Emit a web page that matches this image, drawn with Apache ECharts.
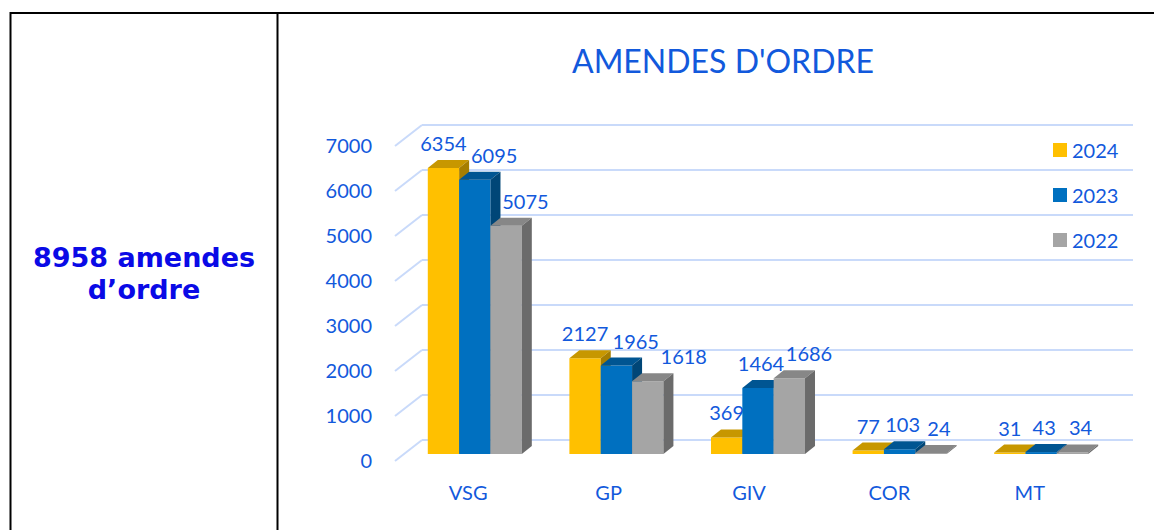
<!DOCTYPE html>
<html>
<head>
<meta charset="utf-8">
<script src="https://cdn.jsdelivr.net/npm/echarts@6/dist/echarts.min.js"></script>
<style>
  html, body { margin: 0; padding: 0; background: #fff; }
  #main { width: 1154px; height: 530px; }
</style>
</head>
<body>
<div id="main"></div>
<script>
// données du graphique
var categories = ['VSG', 'GP', 'GIV', 'COR', 'MT'];
var years = ['2024', '2023', '2022'];
var values2024 = [6354, 2127, 369, 77, 31];
var values2023 = [6095, 1965, 1464, 103, 43];
var values2022 = [5075, 1618, 1686, 24, 34];
var yTicks = [0, 1000, 2000, 3000, 4000, 5000, 6000, 7000];
var allValues = [values2024, values2023, values2022];

var blue = '#1259dc';
// face avant, dessus, côté
var colors = [
  ['#ffc000', '#c79700', '#a67e00'],
  ['#0070c0', '#005592', '#004677'],
  ['#a5a5a5', '#878787', '#6b6b6b']
];
var DX = 10, DY = 8;          // profondeur des barres
var labelShift = [0, 3, 8];   // décalage des étiquettes
var charW = 11.5;             // largeur approx. d'un chiffre

var chart = echarts.init(document.getElementById('main'), null, {renderer: 'svg'});

// position des étiquettes : on pousse à droite si elles chevauchent
// l'étiquette ou la barre précédente
function labelPos(api, cat, k) {
  var band = api.size([1, 0])[0];
  var bw = band * 0.664 / 3;
  var prev = null, res = null;
  for (var j = 0; j <= k; j++) {
    var v = allValues[j][cat];
    var c = api.coord([cat, v]);
    var left = c[0] - 1.5 * bw + j * bw;
    var x = left + bw / 2 + labelShift[j];
    var y = c[1] - 25;
    var w = String(v).length * charW;
    if (prev) {
      if (Math.abs(y - prev.y) < 19 && x - prev.x < (w + prev.w) / 2 + 2) {
        x = prev.x + (w + prev.w) / 2 + 2;
      }
      if (y + 10 > prev.top - DY && x - w / 2 < left + DX + 2) {
        x = left + DX + 2 + w / 2;
      }
    }
    res = {x: x, y: y, w: w, top: c[1]};
    prev = res;
  }
  return res;
}

// barres 3D dessinées avec une série custom
function barSeries(name, values, k) {
  return {
    name: name,
    type: 'custom',
    xAxisIndex: 1,
    yAxisIndex: 1,
    itemStyle: {color: colors[k][0]},
    data: values.map(function (v, i) { return [i, v]; }),
    renderItem: function (params, api) {
      var cat = api.value(0), v = api.value(1);
      var top = api.coord([cat, v]);
      var base = api.coord([cat, 0]);
      var band = api.size([1, 0])[0];
      var bw = band * 0.664 / 3;
      var x0 = top[0] - 1.5 * bw + k * bw;
      var y0 = top[1], y1 = base[1];
      var lp = labelPos(api, cat, k);
      return {
        type: 'group',
        children: [
          {type: 'rect', shape: {x: x0, y: y0, width: bw, height: y1 - y0},
            style: {fill: colors[k][0]}},
          {type: 'polygon', shape: {points: [[x0, y0], [x0 + bw, y0], [x0 + bw + DX, y0 - DY], [x0 + DX, y0 - DY]]},
            style: {fill: colors[k][1]}},
          {type: 'polygon', shape: {points: [[x0 + bw, y0], [x0 + bw + DX, y0 - DY], [x0 + bw + DX, y1 - DY], [x0 + bw, y1]]},
            style: {fill: colors[k][2]}},
          {type: 'text', x: lp.x, y: lp.y,
            style: {text: String(v), fill: blue, fontSize: 20, fontFamily: 'Lato',
              align: 'center', verticalAlign: 'middle'}}
        ]
      };
    }
  };
}

var option = {
  backgroundColor: '#fff',
  animation: false,
  graphic: [
    {type: 'line', shape: {x1: 10, y1: 13, x2: 1154, y2: 13}, style: {stroke: '#000', lineWidth: 2}},
    {type: 'line', shape: {x1: 10.5, y1: 12, x2: 10.5, y2: 530}, style: {stroke: '#000', lineWidth: 2}},
    {type: 'line', shape: {x1: 277.5, y1: 12, x2: 277.5, y2: 530}, style: {stroke: '#000', lineWidth: 2}},
    {type: 'text', x: 144, y: 273,
      style: {text: '8958 amendes\nd\u2019ordre', fill: '#0a0ae6', fontSize: 27, fontWeight: 'bold',
        fontFamily: 'DejaVu Sans', lineHeight: 32, align: 'center', verticalAlign: 'middle'}},
    {type: 'text', x: 723, y: 60,
      style: {text: "AMENDES D'ORDRE", fill: blue, fontSize: 32, fontFamily: 'Lato',
        align: 'center', verticalAlign: 'middle'}}
  ],
  legend: {
    orient: 'vertical',
    left: 1053,
    top: 140,
    padding: 0,
    data: years,
    icon: 'rect',
    itemWidth: 14,
    itemHeight: 14,
    itemGap: 25,
    textStyle: {color: blue, fontSize: 20, fontFamily: 'Lato', lineHeight: 20}
  },
  grid: [
    {left: 422, right: 21, top: 125, bottom: 90},   // fond
    {left: 404, right: 42, top: 139, bottom: 76},   // barres
    {left: 398, right: 54, top: 145, bottom: 70}    // étiquettes
  ],
  xAxis: [
    {gridIndex: 0, type: 'value', min: 0, max: 1, show: false},
    {gridIndex: 1, type: 'category', data: categories, show: false},
    {gridIndex: 2, type: 'category', data: categories,
      axisLine: {show: false}, axisTick: {show: false},
      axisLabel: {color: blue, fontSize: 20, fontFamily: 'Lato', margin: 22}}
  ],
  yAxis: [
    {gridIndex: 0, type: 'value', min: 0, max: 7000, interval: 1000,
      axisLabel: {show: false}, axisLine: {show: false}, axisTick: {show: false},
      splitLine: {lineStyle: {color: '#c9dafa', width: 2}}},
    {gridIndex: 1, type: 'value', min: 0, max: 7000, interval: 1000, show: false},
    {gridIndex: 2, type: 'value', min: 0, max: 7000, interval: 1000,
      axisLine: {show: false}, axisTick: {show: false}, splitLine: {show: false},
      axisLabel: {color: blue, fontSize: 20, fontFamily: 'Lato', margin: 26,
        formatter: function (v) { return String(v); }}}
  ],
  series: [
    {
      // lignes obliques du mur latéral
      type: 'custom',
      xAxisIndex: 0,
      yAxisIndex: 0,
      silent: true,
      data: yTicks.map(function (t) { return [0, t]; }),
      renderItem: function (params, api) {
        var p = api.coord([0, api.value(1)]);
        return {type: 'line', shape: {x1: p[0], y1: p[1], x2: p[0] - 27, y2: p[1] + 21},
          style: {stroke: '#c9dafa', lineWidth: 2}};
      }
    },
    barSeries(years[0], values2024, 0),
    barSeries(years[1], values2023, 1),
    barSeries(years[2], values2022, 2)
  ]
};
option && chart.setOption(option);
</script>
</body>
</html>
